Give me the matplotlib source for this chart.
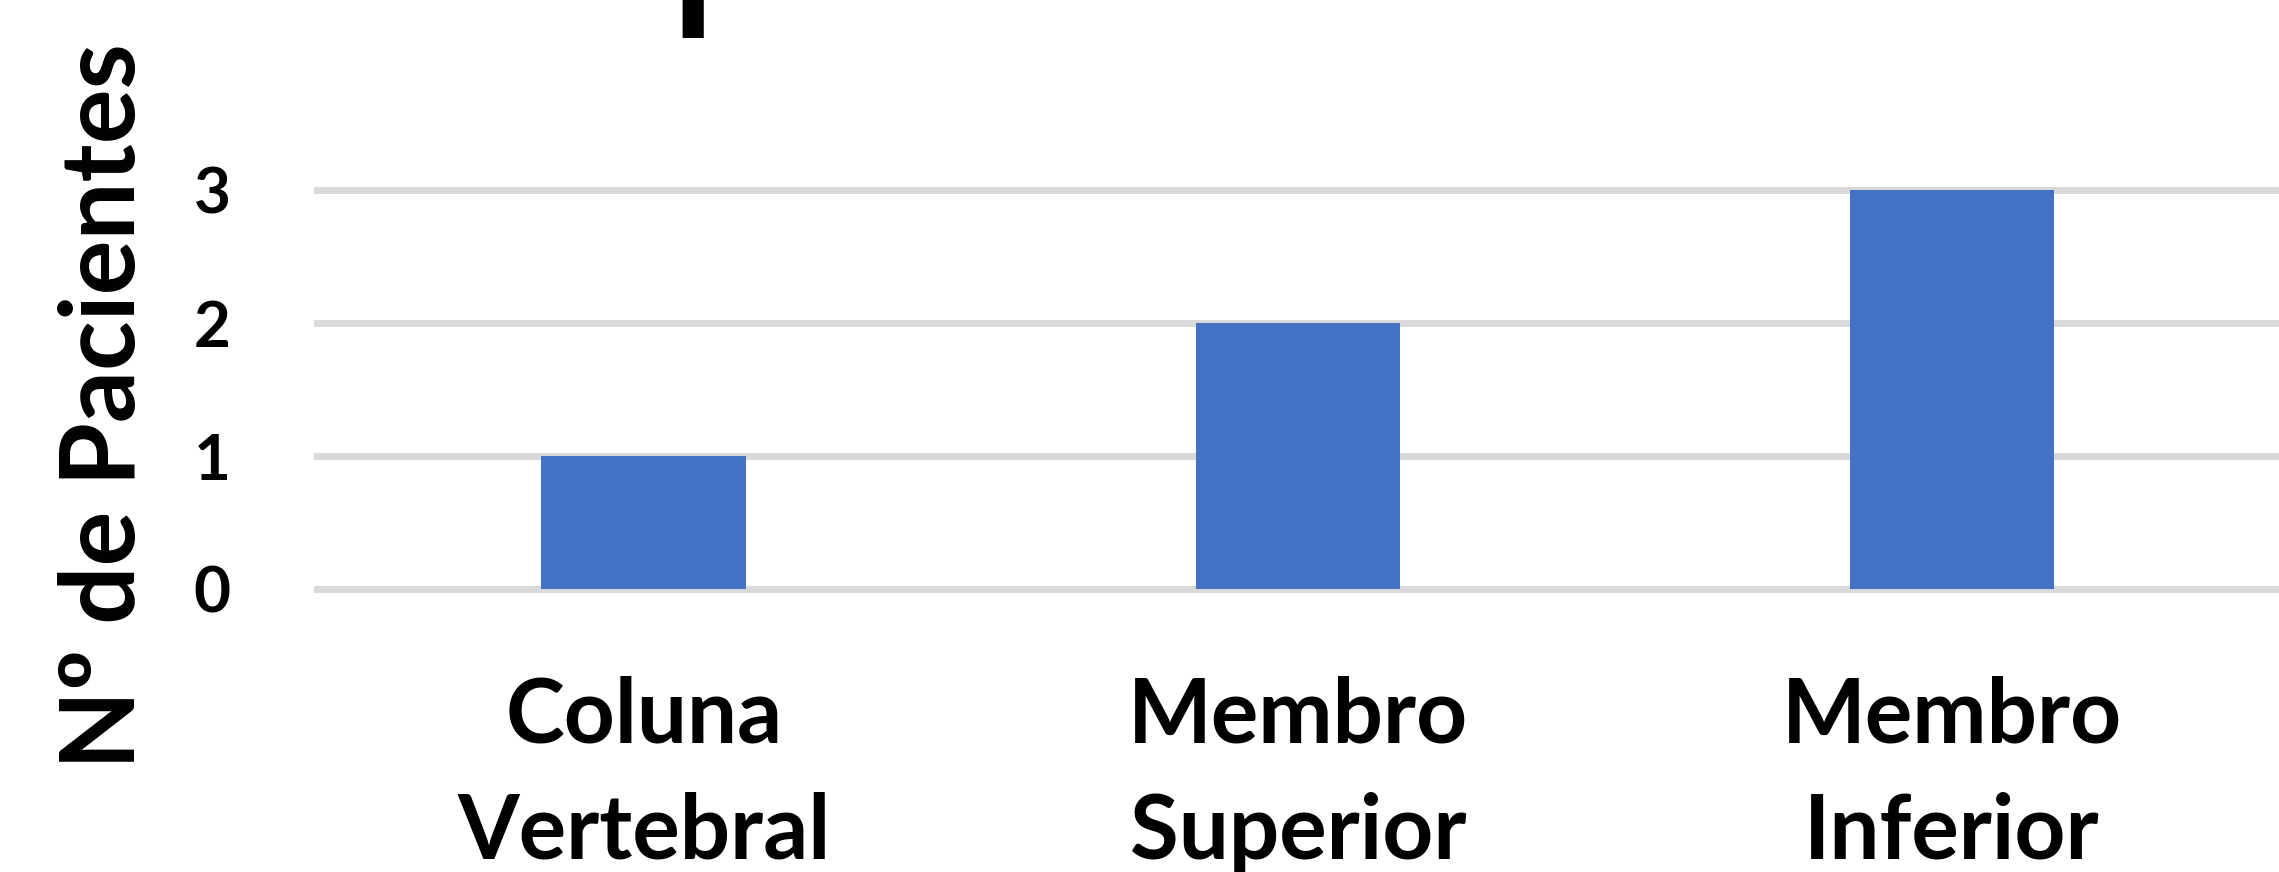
import matplotlib
matplotlib.use("Agg")
import matplotlib.pyplot as plt

categories = ["Coluna\nVertebral", "Membro\nSuperior", "Membro\nInferior"]
values = [1, 2, 3]
yticks = [0, 1, 2, 3]
ylabel = "Nº de Pacientes"

plt.rcParams['font.family'] = ['Lato', 'DejaVu Sans']
plt.rcParams['font.weight'] = 'bold'

fig = plt.figure(figsize=(22.79, 8.72), dpi=100)
ax = fig.add_axes([0.139, 0.3245, 0.861, 0.4576])

x = list(range(len(categories)))
ax.bar(x, values, width=0.313, color="#4472C4", zorder=3)
ax.set_xlim(-0.5, 2.5)
ax.set_ylim(0, 3)
ax.set_yticks(yticks)
for t in yticks:
    ax.axhline(t, color="#D9D9D9", lw=5, zorder=1, clip_on=False)
ax.set_xticks(x)
ax.set_xticklabels(categories, fontsize=64, fontweight='bold', linespacing=1.52)
ax.tick_params(axis='x', length=0, pad=62)
ax.tick_params(axis='y', length=0, pad=62, labelsize=46)
for lab in ax.get_yticklabels():
    lab.set_fontweight('bold')
for s in ax.spines.values():
    s.set_visible(False)

fig.text(0.046, 0.534, ylabel, rotation=90, fontsize=74, fontweight='bold',
         ha='center', va='center')
# cut-off title fragment at top
fig.text(0.292, 1.003, "p", fontsize=170, fontweight='normal', ha='left', va='baseline')

fig.savefig("out.png", dpi=100)
